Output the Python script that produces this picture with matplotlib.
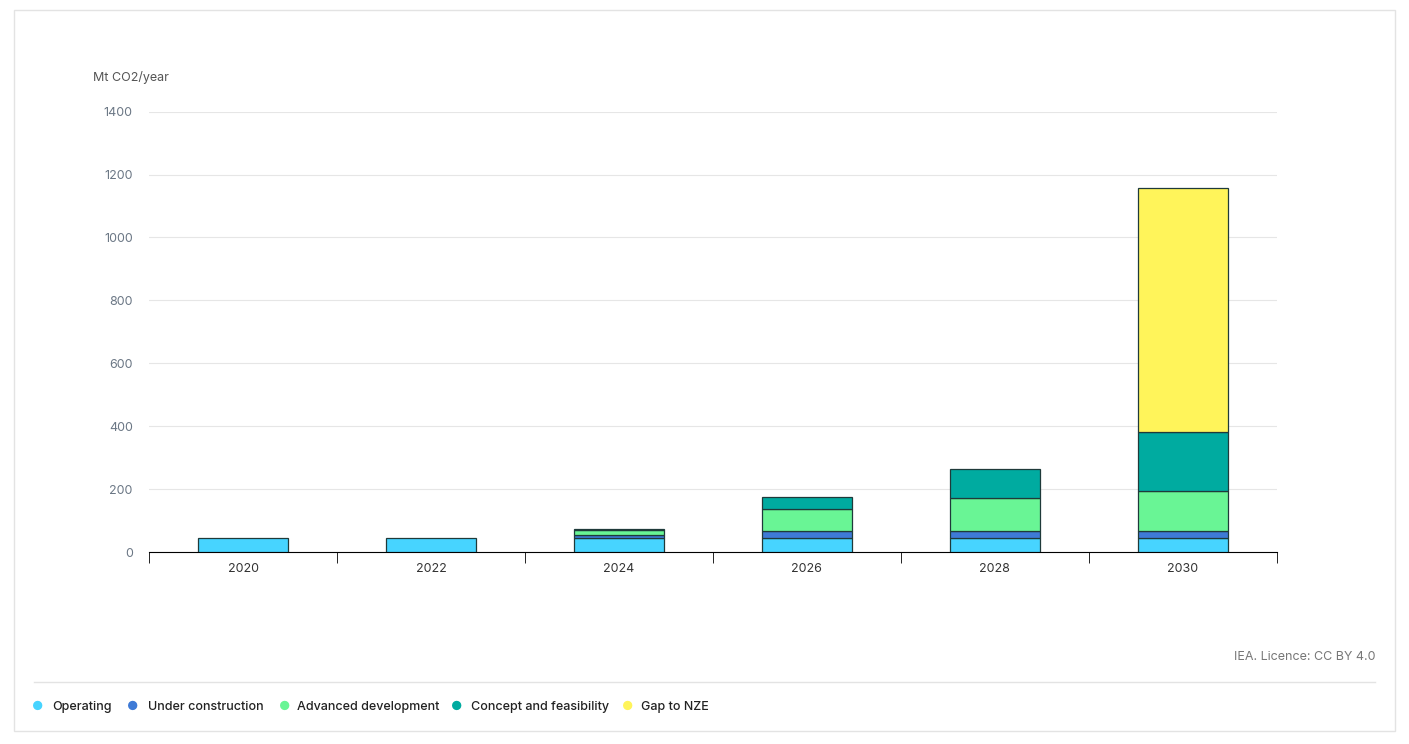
import matplotlib.pyplot as plt
import numpy as np

years = ['2020', '2022', '2024', '2026', '2028', '2030']
operating = [44, 44, 44, 44, 44, 44]
under_construction = [0, 0, 9, 22, 22, 22]
advanced = [0, 0, 16, 70, 105, 127]
concept = [0, 0, 3, 38, 93, 188]
gap = [0, 0, 0, 0, 0, 777]

series = [
    ('Operating', operating, '#47d4ff'),
    ('Under construction', under_construction, '#3e7ad6'),
    ('Advanced development', advanced, '#69f595'),
    ('Concept and feasibility', concept, '#00aba0'),
    ('Gap to NZE', gap, '#fff45a'),
]

plt.rcParams['font.family'] = ['Inter', 'DejaVu Sans']
fig = plt.figure(figsize=(14.09, 7.44), dpi=100)
# card border
fig.patches.append(plt.Rectangle((0.01, 0.017), 0.98, 0.97, transform=fig.transFigure,
                                 fill=False, edgecolor='#e3e3e3', linewidth=1))
ax = fig.add_axes([0.106, 0.258, 0.8, 0.592])

x = np.arange(len(years))
bottom = np.zeros(len(years))
for name, vals, col in series:
    vals = np.array(vals, dtype=float)
    mask = vals > 0
    ax.bar(x[mask], vals[mask], bottom=bottom[mask], width=0.48, color=col,
           edgecolor='#1f3a3a', linewidth=0.9, zorder=3)
    bottom += vals

ax.set_xlim(-0.5, len(years) - 0.5)
ax.set_ylim(0, 1400)
ax.set_yticks(range(0, 1401, 200))
ax.grid(axis='y', color='#e6e6e6', linewidth=0.8, zorder=0)
ax.set_xticks(x)
ax.set_xticklabels(years)
ax.set_xticks(np.arange(-0.5, len(years)), minor=True)
ax.tick_params(axis='x', which='major', length=0, pad=8, labelsize=9, colors='#333333')
ax.tick_params(axis='x', which='minor', length=8, color='black')
ax.tick_params(axis='y', length=0, labelsize=9, colors='#6b7785', pad=12)
for s in ['top', 'right', 'left']:
    ax.spines[s].set_visible(False)
ax.spines['bottom'].set_color('black')

fig.text(0.066, 0.891, 'Mt CO2/year', fontsize=9, color='#555555')
fig.text(0.976, 0.113, 'IEA. Licence: CC BY 4.0', fontsize=9, color='#777777', ha='right')
fig.lines.append(plt.Line2D([0.024, 0.976], [0.083, 0.083], transform=fig.transFigure,
                            color='#e3e3e3', linewidth=1))

dot_x = [38, 133, 285, 457, 628]
text_x = [52, 148, 297, 471, 641]
for (name, vals, col), dx, tx in zip(series, dot_x, text_x):
    fig.text(dx / 1409, 0.05, '\u25cf', color=col, fontsize=9, va='center', ha='center')
    fig.text(tx / 1409, 0.05, name, fontsize=9, va='center', color='#222222', fontweight='medium')

fig.savefig('out.png', dpi=100)
